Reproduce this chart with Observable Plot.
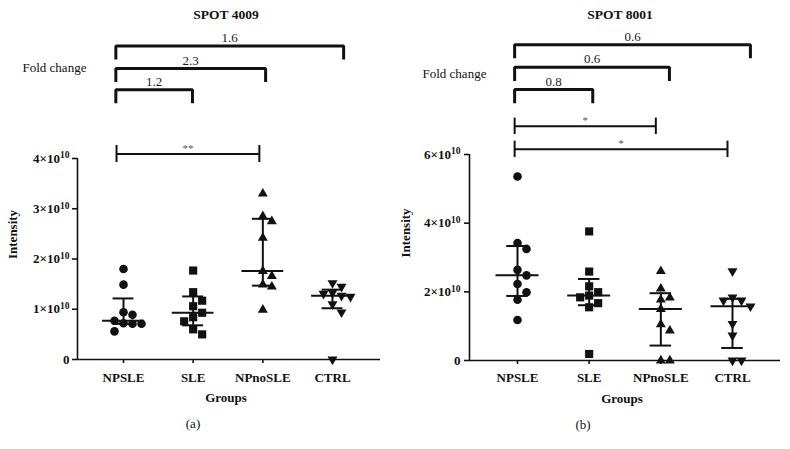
<!DOCTYPE html>
<html><head><meta charset="utf-8">
<script src="https://cdn.jsdelivr.net/npm/d3@7"></script>
<script src="https://cdn.jsdelivr.net/npm/@observablehq/plot@0.6"></script>
<style>
body{margin:0;background:#fff}
#wrap{display:flex;width:790px;height:449px;overflow:hidden}
</style>
</head><body><div id="wrap"></div>
<script>
// Groups (x categories)
const groups = ["NPSLE", "SLE", "NPnoSLE", "CTRL"];

// SPOT 4009 intensities, in units of 10^10
const s4009_NPSLE   = [1.80, 1.49, 0.94, 0.89, 0.77, 0.72, 0.71, 0.71, 0.56];
const s4009_SLE     = [1.77, 1.34, 1.17, 1.06, 0.93, 0.84, 0.76, 0.60, 0.50];
const s4009_NPnoSLE = [3.30, 2.85, 2.75, 2.42, 1.76, 1.66, 1.49, 1.45, 0.99];
const s4009_CTRL    = [1.52, 1.45, 1.33, 1.31, 1.27, 1.25, 1.10, 0.94, 0.00];

// SPOT 8001 intensities, in units of 10^10
const s8001_NPSLE   = [5.36, 3.42, 3.25, 2.64, 2.48, 2.23, 1.99, 1.77, 1.18];
const s8001_SLE     = [3.76, 2.59, 2.16, 1.99, 1.89, 1.84, 1.67, 1.55, 0.19];
const s8001_NPnoSLE = [2.60, 2.09, 1.83, 1.77, 1.50, 1.05, 0.87, 0.00, 0.00];
const s8001_CTRL    = [2.60, 1.84, 1.75, 1.75, 1.58, 1.07, 0.73, 0.00, 0.00];

// y tick values (units of 10^10)
const yTicks4009 = [0, 1, 2, 3, 4];
const yTicks8001 = [0, 2, 4, 6];

// Fold-change comparisons (vs NPSLE) and significance marks
const fold4009 = [{to: "SLE", label: "1.2"}, {to: "NPnoSLE", label: "2.3"}, {to: "CTRL", label: "1.6"}];
const fold8001 = [{to: "SLE", label: "0.8"}, {to: "NPnoSLE", label: "0.6"}, {to: "CTRL", label: "0.6"}];
const sig4009 = [{from: "NPSLE", to: "NPnoSLE", label: "**"}];
const sig8001 = [{from: "NPSLE", to: "NPnoSLE", label: "*"}, {from: "NPSLE", to: "CTRL", label: "*"}];

const sqrt3 = Math.sqrt(3);
const triangleDown = {
  draw(ctx, size) {
    const y = -Math.sqrt(size / (sqrt3 * 3));
    ctx.moveTo(0, -y * 2);
    ctx.lineTo(-sqrt3 * y, y);
    ctx.lineTo(sqrt3 * y, y);
    ctx.closePath();
  }
};
const symbols = ["circle", "square", "triangle", triangleDown];
const radii = [4.3, 4.6, 3.7, 3.7];

// quartile, (n+1)p method
function quant(sorted, p) {
  const n = sorted.length, h = (n + 1) * p, lo = Math.floor(h), f = h - lo;
  if (lo < 1) return sorted[0];
  if (lo >= n) return sorted[n - 1];
  return sorted[lo - 1] + f * (sorted[lo] - sorted[lo - 1]);
}

// simple deterministic dodge (pixel space) -> offsets in x units
function dodge(values, pxY, pxX, minDist = 9, step = 9) {
  const order = values.map((_, i) => i).sort((a, b) => values[b] - values[a]);
  const placed = [], off = new Array(values.length);
  for (const i of order) {
    const py = values[i] * pxY;
    for (let k = 0; k < 20; k++) {
      const cands = k === 0 ? [0] : [k * step, -k * step];
      let got = null;
      for (const c of cands) {
        if (placed.every(p => Math.hypot(p.x - c, p.y - py) >= minDist)) { got = c; break; }
      }
      if (got !== null) { off[i] = got / pxX; placed.push({x: got, y: py}); break; }
    }
  }
  return off;
}

function panel(cfg) {
  const W = 395, H = 449;
  const {mt, mb, ml, mr, xr, yMax} = cfg;
  const pxY = (H - mb - mt) / yMax, pxX = (xr[1] - xr[0]) / 3;
  const xFrameLeft = (ml - xr[0]) / pxX; // x value at the frame's left edge
  const gi = g => groups.indexOf(g);
  const points = [], stats = [];
  cfg.series.forEach((vals, g) => {
    const off = dodge(vals, pxY, pxX);
    vals.forEach((v, i) => points.push({g, x: g + off[i], y: v}));
    const s = vals.slice().sort((a, b) => a - b);
    stats.push({g, q1: quant(s, 0.25), med: quant(s, 0.5), q3: quant(s, 0.75)});
  });
  // fold-change bracket geometry
  const foldLines = [];
  const foldData = cfg.fold.map((f, k) => {
    const lay = cfg.foldLayout[k];
    const x1 = gi("NPSLE") + cfg.foldStart, x2 = gi(f.to) + lay.dx;
    const yl = lay.y, yd = lay.y - cfg.foldDrop;
    foldLines.push({k, x: x1, y: yd}, {k, x: x1, y: yl}, {k, x: x2, y: yl}, {k, x: x2, y: yd});
    return {label: f.label, x: (x1 + x2) / 2, y: yl};
  });
  const sigData = cfg.sig.map((s, k) => {
    const lay = cfg.sigLayout[k];
    return {label: s.label, x1: gi(s.from) + lay.dx1, x2: gi(s.to) + lay.dx2, y: lay.y};
  });
  const sigEnds = sigData.flatMap(s => [{x: s.x1, y: s.y}, {x: s.x2, y: s.y}]);
  const st = cfg.sigTick;

  const marks = [
    Plot.ruleY([0], {stroke: "#111", strokeWidth: 1.6}),
    Plot.ruleX([xFrameLeft], {y1: 0, y2: yMax, stroke: "#111", strokeWidth: 1.6}),
    Plot.axisY({ticks: cfg.yTicks, tickFormat: d => d === 0 ? "0" : `${d}×10^10`, tickSize: 5,
      tickPadding: cfg.tickPad, fontSize: 13, fontWeight: "bold", label: null,
      stroke: "#111", strokeWidth: 1.6}),
    Plot.axisX({ticks: [0, 1, 2, 3], tickFormat: i => groups[i], tickSize: 4, tickPadding: cfg.xPad,
      fontSize: 13, fontWeight: "bold", label: null, stroke: "#111", strokeWidth: 1.6}),
  ];
  cfg.series.forEach((_, g) => {
    marks.push(Plot.dot(points.filter(p => p.g === g), {x: "x", y: "y", symbol: symbols[g], r: radii[g], fill: "#111", stroke: "none"}));
  });
  marks.push(
    Plot.ruleX(stats, {x: "g", y1: "q1", y2: "q3", stroke: "#111", strokeWidth: 2}),
    Plot.ruleY(stats, {y: "med", x1: d => d.g - 0.3, x2: d => d.g + 0.3, stroke: "#111", strokeWidth: 2}),
    Plot.ruleY(stats, {y: "q1", x1: d => d.g - 0.15, x2: d => d.g + 0.15, stroke: "#111", strokeWidth: 2}),
    Plot.ruleY(stats, {y: "q3", x1: d => d.g - 0.15, x2: d => d.g + 0.15, stroke: "#111", strokeWidth: 2}),
    // fold change brackets
    Plot.line(foldLines, {x: "x", y: "y", z: "k", stroke: "#111", strokeWidth: 3, strokeLinejoin: "miter", strokeLinecap: "butt"}),
    Plot.text(foldData, {x: "x", y: "y", text: "label", lineAnchor: "bottom", dy: -4, fontSize: 13, fontWeight: "normal", fill: "#222"}),
    // significance brackets
    Plot.ruleY(sigData, {y: "y", x1: "x1", x2: "x2", stroke: "#111", strokeWidth: 2}),
    Plot.ruleX(sigEnds, {x: "x", y1: d => d.y - st, y2: d => d.y + st, stroke: "#111", strokeWidth: 2}),
    Plot.text(sigData, {x: d => (d.x1 + d.x2) / 2, y: "y", text: "label", lineAnchor: "bottom", dy: -2, fontSize: 11, fontWeight: "normal", fill: "#555"}),
    // titles and labels
    Plot.text([cfg.title], {frameAnchor: "top", dy: cfg.titleDy, dx: cfg.titleDx, fontSize: 13.5, fontWeight: "bold", lineAnchor: "middle"}),
    Plot.text(["Fold change"], {frameAnchor: "top-left", textAnchor: "start", dx: cfg.fcDx, dy: cfg.fcDy, fontSize: 13, fontWeight: "normal", lineAnchor: "middle"}),
    Plot.text(["Intensity"], {frameAnchor: "left", rotate: -90, dx: cfg.intDx, fontSize: 13, fontWeight: "bold", lineAnchor: "middle"}),
    Plot.text(["Groups"], {frameAnchor: "bottom", dx: -3, dy: 38, fontSize: 13, fontWeight: "bold", lineAnchor: "middle"}),
    Plot.text([cfg.letter], {frameAnchor: "bottom", dx: cfg.letterDx, dy: 64, fontSize: 13, fontWeight: "normal", lineAnchor: "middle"})
  );

  const svg = Plot.plot({
    width: W, height: H,
    marginTop: mt, marginBottom: mb, marginLeft: ml, marginRight: mr,
    x: {domain: [0, 3], range: xr},
    y: {domain: [0, yMax]},
    style: {fontFamily: "'Liberation Serif', 'DejaVu Serif', serif", fontSize: "13px", color: "#111", background: "#fff", overflow: "visible"},
    marks
  });
  // bold tick labels with superscript exponents
  svg.querySelectorAll('g[aria-label="y-axis tick label"] text').forEach(t => {
    t.style.fontSize = "13px";
    t.style.fontWeight = "bold";
    const s = t.textContent;
    if (!s.includes("^")) return;
    const [base, exp] = s.split("^");
    t.textContent = "";
    const a = document.createElementNS("http://www.w3.org/2000/svg", "tspan");
    a.textContent = base;
    const b = document.createElementNS("http://www.w3.org/2000/svg", "tspan");
    b.textContent = exp;
    b.setAttribute("dy", "-0.45em");
    b.style.fontSize = "9.5px";
    t.appendChild(a); t.appendChild(b);
  });
  return svg;
}

const wrap = document.getElementById("wrap");
wrap.appendChild(panel({
  title: "SPOT 4009", letter: "(a)",
  series: [s4009_NPSLE, s4009_SLE, s4009_NPnoSLE, s4009_CTRL],
  yTicks: yTicks4009, yMax: 4,
  mt: 158, mb: 90, ml: 77, mr: 15, xr: [123, 332], tickPad: 3, xPad: 9,
  fold: fold4009, foldStart: -0.11, foldDrop: 0.27,
  foldLayout: [{dx: -0.01, y: 5.37}, {dx: 0.04, y: 5.79}, {dx: 0.16, y: 6.24}],
  sig: sig4009, sigLayout: [{dx1: -0.10, dx2: -0.05, y: 4.09}], sigTick: 0.17,
  titleDy: -144, titleDx: -3, fcDx: -55, fcDy: -91, intDx: -65, letterDx: -36
}));
wrap.appendChild(panel({
  title: "SPOT 8001", letter: "(b)",
  series: [s8001_NPSLE, s8001_SLE, s8001_NPnoSLE, s8001_CTRL],
  yTicks: yTicks8001, yMax: 6,
  mt: 154, mb: 89, ml: 74, mr: 10, xr: [122, 337], tickPad: 4, xPad: 8,
  fold: fold8001, foldStart: -0.04, foldDrop: 0.40,
  foldLayout: [{dx: 0.05, y: 7.89}, {dx: 0.12, y: 8.54}, {dx: 0.25, y: 9.20}],
  sig: sig8001, sigLayout: [{dx1: -0.04, dx2: -0.07, y: 6.82}, {dx1: -0.04, dx2: -0.07, y: 6.15}], sigTick: 0.24,
  titleDy: -140, titleDx: -5, fcDx: -47, fcDy: -81, intDx: -64, letterDx: -42
}));
</script>
</body></html>
